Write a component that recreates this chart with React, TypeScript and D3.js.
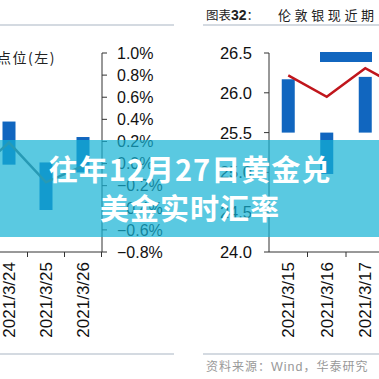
import React from 'react';
import * as d3 from 'd3';

const leftCats = ['2021/3/23', '2021/3/24', '2021/3/25', '2021/3/26'];
const leftBarLow = [null, -0.01, -0.42, -0.08];
const leftBarHigh = [null, 0.38, 0.01, 0.24];
const leftLine = [-0.11, 0.19, -0.17, -0.02];
const leftTicks = [-0.8, -0.6, -0.4, -0.2, 0, 0.2, 0.4, 0.6, 0.8, 1.0];

const rightCats = ['2021/3/15', '2021/3/16', '2021/3/17', '2021/3/18'];
const rightBarLow = [25.5, 24.98, 25.5, null];
const rightBarHigh = [26.17, 25.5, 26.2, null];
const rightLine = [26.22, 25.95, 26.31, 26.04];
const rightTicks = [24.0, 24.5, 25.0, 25.5, 26.0, 26.5];

const BAR = '#1166bf';
const GRAY_LINE = '#56626c';
const RED = '#c0161c';
const RULE = '#a9b5c3';
const SANS = '"Liberation Sans", Arial, sans-serif';
const CJK = '"Noto Sans CJK SC", "Noto Sans", sans-serif';

export default function App() {
  const W = 379, H = 379;
  const xL = d3.scaleBand<string>().domain(leftCats).range([-46.5, 101.5]).padding(0);
  const yL = d3.scaleLinear().domain([-0.8, 1.0]).range([252, 53]);
  const xR = d3.scaleBand<string>().domain(rightCats).range([269, 423]).padding(0);
  const yR = d3.scaleLinear().domain([24.0, 26.5]).range([252, 53]);
  const bw = 13;

  const lineL = d3.line<number>()
    .x((_, i) => (xL(leftCats[i]) as number) + xL.bandwidth() / 2)
    .y((d) => yL(d));
  const lineR = d3.line<number>()
    .x((_, i) => (xR(rightCats[i]) as number) + xR.bandwidth() / 2)
    .y((d) => yR(d));

  return (
    <svg width={W} height={H} style={{ position: 'absolute', left: 0, top: 0, background: '#fff' }}>
      <rect x={0} y={0} width={W} height={H} fill="#fff" />
      {/* rules */}
      <line x1={0} x2={174} y1={25} y2={25} stroke={RULE} strokeWidth={1.2} />
      <line x1={203} x2={379} y1={25} y2={25} stroke={RULE} strokeWidth={1.2} />
      <line x1={0} x2={174} y1={354} y2={354} stroke={RULE} strokeWidth={1.2} />
      <line x1={203} x2={379} y1={354} y2={354} stroke={RULE} strokeWidth={1.2} />

      {/* titles */}
      <text x={206} y={20} fontFamily={CJK} fontSize={12.5} fill="#222">
        图表<tspan fontFamily={SANS} fontWeight="bold" fontSize={14}>32</tspan>：
      </text>
      <text x={278} y={20} fontFamily={CJK} fontSize={13} fill="#222" letterSpacing={3.6}>伦敦银现近期</text>
      <text x={56} y={63} textAnchor="end" fontFamily={CJK} fontSize={14} fill="#222" letterSpacing={1.5}>点位(左)</text>
      <text x={206} y={371} fontFamily={CJK} fontSize={12} fill="#999" letterSpacing={1}>
        资料来源：<tspan fontFamily={SANS} fontSize={12.5}>Wind</tspan>，华泰研究
      </text>

      {/* left panel */}
      <g>
        {leftCats.map((c, i) => leftBarLow[i] == null ? null : (
          <rect key={c} x={(xL(c) as number) + xL.bandwidth() / 2 - bw / 2}
            y={yL(leftBarHigh[i] as number)} width={bw}
            height={yL(leftBarLow[i] as number) - yL(leftBarHigh[i] as number)} fill={BAR} />
        ))}
        <path d={lineL(leftLine) || ''} fill="none" stroke={GRAY_LINE} strokeWidth={2.5} />
        <line x1={0} x2={102} y1={252} y2={252} stroke="#333" strokeWidth={1} />
        <line x1={102} x2={102} y1={yL(1.0)} y2={252} stroke="#333" strokeWidth={1} />
        {leftCats.map((c) => {
          const x = (xL(c) as number) + xL.bandwidth();
          return x > 0 ? <line key={c} x1={x} x2={x} y1={252} y2={257} stroke="#333" /> : null;
        })}
        {leftTicks.map((t) => (
          <g key={t}>
            <line x1={102} x2={107} y1={yL(t)} y2={yL(t)} stroke="#333" />
            <text x={117} y={yL(t)} dy="0.36em" fontFamily={SANS} fontSize={16} fill="#111">
              {d3.format('.1%')(t / 100)}
            </text>
          </g>
        ))}
        {leftCats.map((c) => {
          const cx = (xL(c) as number) + xL.bandwidth() / 2;
          if (cx < 0) return null;
          return (
            <text key={c} transform={`translate(${cx},262) rotate(-90)`} textAnchor="end" dy="0.36em"
              fontFamily={SANS} fontSize={17} fill="#111">{c}</text>
          );
        })}
      </g>

      {/* right panel */}
      <g>
        {rightCats.map((c, i) => rightBarLow[i] == null ? null : (
          <rect key={c} x={(xR(c) as number) + xR.bandwidth() / 2 - bw / 2}
            y={yR(rightBarHigh[i] as number)} width={bw}
            height={yR(rightBarLow[i] as number) - yR(rightBarHigh[i] as number)} fill={BAR} />
        ))}
        <rect x={320} y={52} width={52} height={10} fill={BAR} />
        <path d={lineR(rightLine) || ''} fill="none" stroke={RED} strokeWidth={2.5} />
        <line x1={269} x2={379} y1={252} y2={252} stroke="#333" strokeWidth={1} />
        <line x1={269} x2={269} y1={yR(26.5)} y2={252} stroke="#333" strokeWidth={1} />
        {rightCats.map((c) => {
          const x = (xR(c) as number) + xR.bandwidth();
          return x < 379 ? <line key={c} x1={x} x2={x} y1={252} y2={257} stroke="#333" /> : null;
        })}
        {rightTicks.map((t) => (
          <g key={t}>
            <line x1={264} x2={269} y1={yR(t)} y2={yR(t)} stroke="#333" />
            <text x={252} y={yR(t)} dy="0.36em" textAnchor="end" fontFamily={SANS} fontSize={16.5} fill="#111">
              {d3.format('.1f')(t)}
            </text>
          </g>
        ))}
        {rightCats.map((c) => {
          const cx = (xR(c) as number) + xR.bandwidth() / 2;
          if (cx > W) return null;
          return (
            <text key={c} transform={`translate(${cx},262) rotate(-90)`} textAnchor="end" dy="0.36em"
              fontFamily={SANS} fontSize={17} fill="#111">{c}</text>
          );
        })}
      </g>

      {/* overlay banner */}
      <rect x={0} y={140} width={W} height={97} fill="rgb(20,178,212)" fillOpacity={0.7} />
      <text x={190} y={181} textAnchor="middle" fontFamily={CJK} fontWeight="bold" fontSize={29}
        letterSpacing={1} fill="#fff">往年12月27日黄金兑</text>
      <text x={190} y={220} textAnchor="middle" fontFamily={CJK} fontWeight="bold" fontSize={29}
        letterSpacing={1} fill="#fff">美金实时汇率</text>
    </svg>
  );
}
